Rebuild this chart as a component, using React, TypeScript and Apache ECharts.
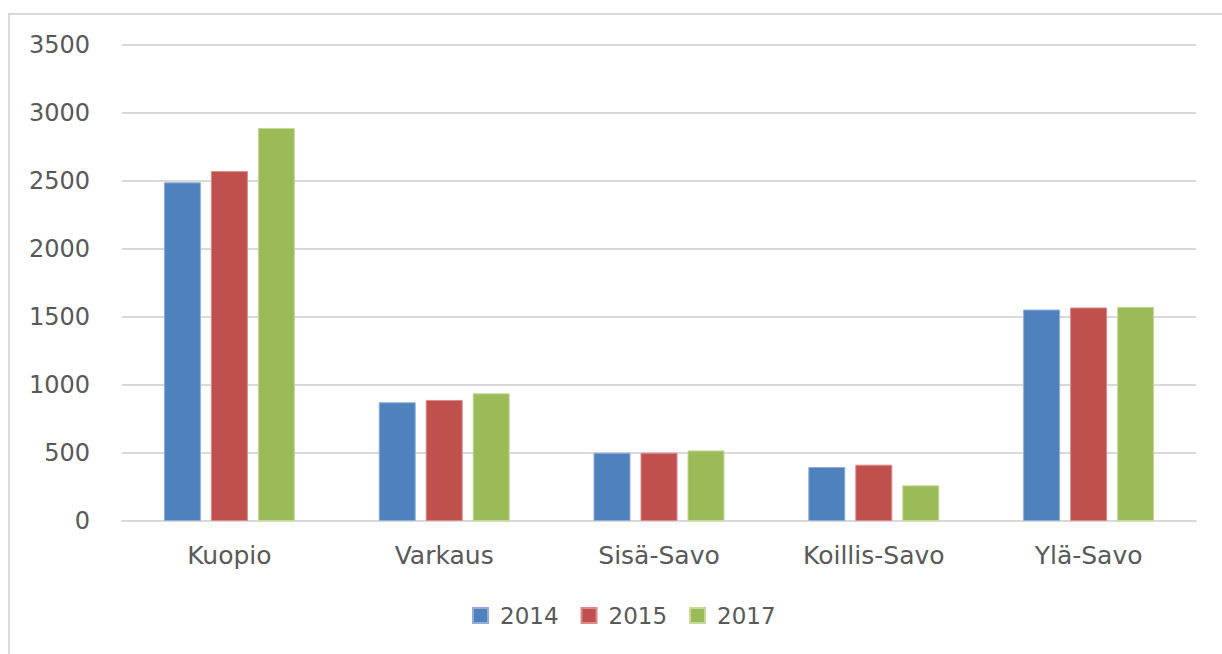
import React, { useEffect, useRef } from "react";
import * as echarts from "echarts";

const categories = ["Kuopio", "Varkaus", "Sisä-Savo", "Koillis-Savo", "Ylä-Savo"];
const years = ["2014", "2015", "2017"];
const values2014 = [2490, 873, 502, 397, 1555];
const values2015 = [2573, 890, 502, 414, 1570];
const values2017 = [2890, 939, 519, 262, 1575];
const colors = ["#4F81BD", "#C0504D", "#9BBB59"];
const borderColors = ["#8FAEDA", "#DA8A88", "#C4DA98"];

export default function App() {
  const ref = useRef<HTMLDivElement>(null);
  useEffect(() => {
    document.body.style.margin = "0";
    const chart = echarts.init(ref.current!, null, { renderer: "svg" });
    const font = "DejaVu Sans";
    const seriesData = [values2014, values2015, values2017];
    chart.setOption({
      animation: false,
      backgroundColor: "#ffffff",
      textStyle: { fontFamily: font },
      graphic: [
        {
          type: "rect",
          shape: { x: 9, y: 14, width: 1300, height: 700 },
          style: { fill: "none", stroke: "#D9D9D9", lineWidth: 2 },
          silent: true,
        },
      ],
      grid: { left: 122, right: 26, top: 45, bottom: 133, containLabel: false },
      legend: {
        data: years,
        bottom: 22,
        left: 467,
        itemWidth: 15,
        itemHeight: 15,
        itemGap: 22,
        icon: "rect",
        textStyle: { color: "#595959", fontSize: 23, fontFamily: font, padding: [0, 0, 0, 7] },
      },
      xAxis: {
        type: "category",
        data: categories,
        axisLine: { lineStyle: { color: "#D9D9D9", width: 2 } },
        axisTick: { show: false },
        axisLabel: { color: "#595959", fontSize: 25, fontFamily: font, margin: 22 },
      },
      yAxis: {
        type: "value",
        min: 0,
        max: 3500,
        interval: 500,
        axisLine: { show: false },
        axisTick: { show: false },
        splitLine: { lineStyle: { color: "#D9D9D9", width: 2 } },
        axisLabel: {
          color: "#595959",
          fontSize: 24,
          fontFamily: font,
          margin: 32,
          formatter: (v: number) => String(v),
        },
      },
      series: years.map((y, i) => ({
        name: y,
        type: "bar",
        data: seriesData[i],
        barWidth: 37,
        barGap: "27%",
        itemStyle: { color: colors[i], borderColor: borderColors[i], borderWidth: 1 },
      })),
    });
    return () => chart.dispose();
  }, []);
  return <div ref={ref} style={{ width: 1222, height: 654 }} />;
}
